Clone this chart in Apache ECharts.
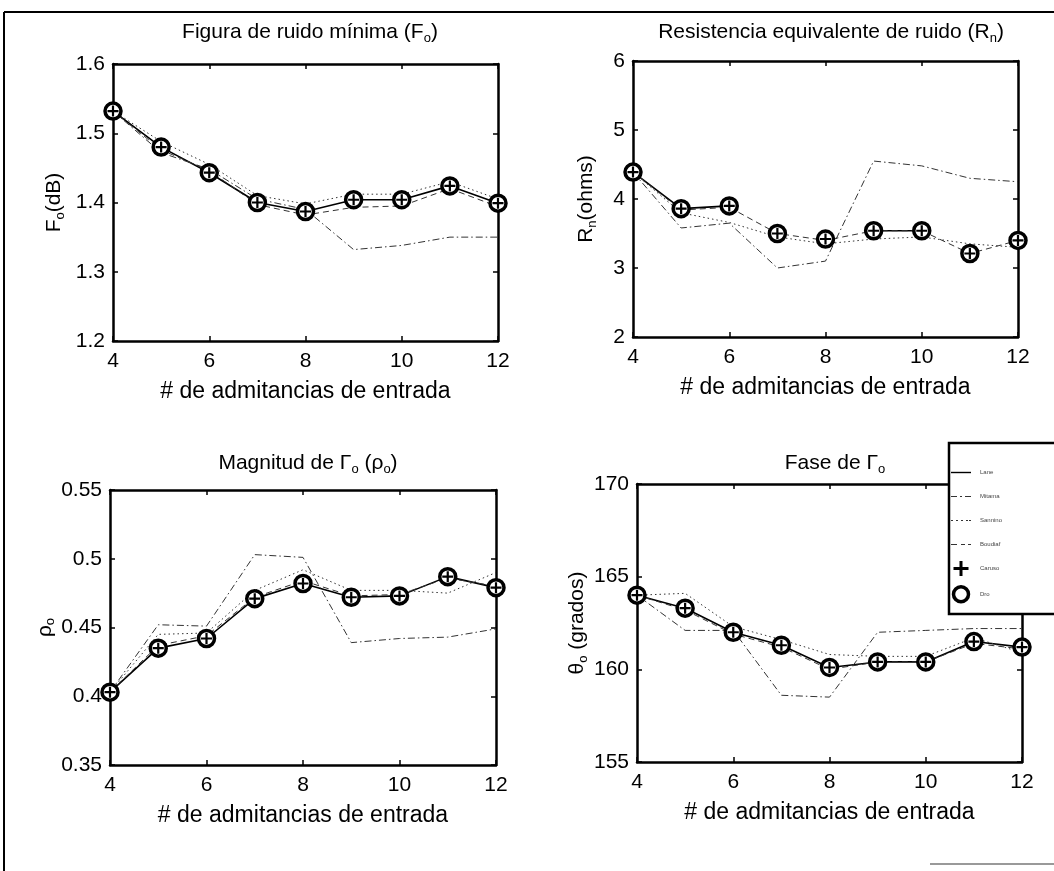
<!DOCTYPE html>
<html>
<head>
<meta charset="utf-8">
<script src="https://cdn.jsdelivr.net/npm/echarts@6/dist/echarts.min.js"></script>
<style>
  html, body { margin: 0; padding: 0; background: #fff; }
  #chart { width: 1054px; height: 871px; }
</style>
</head>
<body>
<div id="chart"></div>
<script>
// Number of input admittances used in the extraction
const admittances = [4, 5, 6, 7, 8, 9, 10, 11, 12];

// Method names (legend order)
const methodNames = ['Lane', 'Mitama', 'Sannino', 'Boudiaf', 'Caruso', 'Dro'];

// Minimum noise figure Fo (dB)
const foSolid   = [1.532, 1.480, 1.443, 1.400, 1.387, 1.404, 1.404, 1.424, 1.399];
const foDashDot = [1.532, 1.472, 1.448, 1.405, 1.390, 1.332, 1.338, 1.350, 1.350];
const foDotted  = [1.532, 1.488, 1.455, 1.410, 1.398, 1.412, 1.412, 1.430, 1.405];
const foDashed  = [1.532, 1.476, 1.446, 1.397, 1.382, 1.393, 1.395, 1.420, 1.394];
const foPlus    = [1.532, 1.480, 1.443, 1.400, 1.387, 1.404, 1.404, 1.424, 1.399];
const foCircle  = [1.532, 1.480, 1.443, 1.400, 1.387, 1.404, 1.404, 1.424, 1.399];

// Equivalent noise resistance Rn (ohms)
const rnSolid   = [4.39, 3.86, 3.90, null, null, 3.54, 3.54, null, null];
const rnDashDot = [4.39, 3.58, 3.65, 3.00, 3.10, 4.55, 4.48, 4.30, 4.25];
const rnDotted  = [4.39, 3.80, 3.66, 3.45, 3.35, 3.42, 3.45, 3.35, 3.30];
const rnDashed  = [4.39, 3.84, 3.88, 3.50, 3.40, 3.54, 3.54, 3.21, 3.40];
const rnPlus    = [4.39, 3.86, 3.90, 3.50, 3.42, 3.54, 3.54, 3.21, 3.40];
const rnCircle  = [4.39, 3.86, 3.90, 3.50, 3.42, 3.54, 3.54, 3.21, 3.40];

// Magnitude of the optimum reflection coefficient (rho_o)
const rhoSolid   = [0.403, 0.435, 0.442, 0.471, 0.482, 0.472, 0.473, 0.487, 0.479];
const rhoDashDot = [0.403, 0.452, 0.451, 0.503, 0.501, 0.439, 0.442, 0.443, 0.449];
const rhoDotted  = [0.403, 0.445, 0.446, 0.477, 0.492, 0.477, 0.477, 0.475, 0.490];
const rhoDashed  = [0.403, 0.437, 0.444, 0.472, 0.484, 0.473, 0.474, 0.486, 0.480];
const rhoPlus    = [0.403, 0.435, 0.442, 0.471, 0.482, 0.472, 0.473, 0.487, 0.479];
const rhoCircle  = [0.403, 0.435, 0.442, 0.471, 0.482, 0.472, 0.473, 0.487, 0.479];

// Phase of the optimum reflection coefficient (degrees)
const thSolid   = [164.0, 163.3, 162.0, 161.3, 160.1, 160.4, 160.4, 161.5, 161.2];
const thDashDot = [164.0, 162.1, 162.1, 158.6, 158.5, 162.0, 162.1, 162.2, 162.2];
const thDotted  = [164.0, 164.1, 162.3, 161.6, 160.8, 160.7, 160.7, 161.7, 160.9];
const thDashed  = [164.0, 163.2, 161.9, 161.2, 160.0, 160.4, 160.4, 161.4, 161.1];
const thPlus    = [164.0, 163.3, 162.0, 161.3, 160.1, 160.4, 160.4, 161.5, 161.2];
const thCircle  = [164.0, 163.3, 162.0, 161.3, 160.1, 160.4, 160.4, 161.5, 161.2];

// Axis ranges
const xRange   = { min: 4, max: 12, interval: 2 };
const foRange  = { min: 1.2, max: 1.6, interval: 0.1 };
const rnRange  = { min: 2, max: 6, interval: 1 };
const rhoRange = { min: 0.35, max: 0.55, interval: 0.05 };
const thRange  = { min: 155, max: 170, interval: 5 };

const FONT = '"Liberation Sans", Arial, sans-serif';
const PLUS_PATH = 'path://M4,0h2v4h4v2h-4v4h-2v-4h-4v-2h4z';

// legend glyphs for the line styles (thin bars laid out along one row)
const LEG_SOLID   = 'path://M0,0h20v1.4h-20z';
const LEG_DASHDOT = 'path://M0,0h6v1h-6z M9,0h2v1h-2z M14,0h6v1h-6z';
const LEG_DOTTED  = 'path://M0,0h2v1h-2z M5,0h2v1h-2z M10,0h2v1h-2z M15,0h2v1h-2z M18,0h2v1h-2z';
const LEG_DASHED  = 'path://M0,0h6v1h-6z M10,0h4v1h-4z M17,0h3v1h-3z';

const panels = [
  { grid: { left: 113, top: 64, width: 385, height: 277 }, y: foRange,
    sets: [foSolid, foDashDot, foDotted, foDashed, foPlus, foCircle],
    title: '{a|Figura de ruido mínima (F}{s|o}{a|)}', tx: 305, ty: 15,
    yName: '{a|F}{s|o}{a|(dB)}', yGap: 46 },
  { grid: { left: 633, top: 61, width: 385, height: 276 }, y: rnRange,
    sets: [rnSolid, rnDashDot, rnDotted, rnDashed, rnPlus, rnCircle],
    title: '{a|Resistencia equivalente de ruido (R}{s|n}{a|)}', tx: 826, ty: 15,
    yName: '{a|R}{s|n}{a|(ohms)}', yGap: 34 },
  { grid: { left: 110, top: 490, width: 386, height: 275 }, y: rhoRange,
    sets: [rhoSolid, rhoDashDot, rhoDotted, rhoDashed, rhoPlus, rhoCircle],
    title: '{a|Magnitud de Γ}{s|o}{a| (ρ}{s|o}{a|)}', tx: 303, ty: 446,
    yName: '{a|ρ}{s|o}', yGap: 37 },
  { grid: { left: 637, top: 484, width: 385, height: 278 }, y: thRange,
    sets: [thSolid, thDashDot, thDotted, thDashed, thPlus, thCircle],
    title: '{a|Fase de Γ}{s|o}', tx: 830, ty: 446,
    yName: '{a|θ}{s|o}{a| (grados)}', yGap: 44 }
];

const richText = {
  a: { fontSize: 21, fontFamily: FONT, color: '#000', fontWeight: 'normal' },
  s: { fontSize: 13, fontFamily: FONT, color: '#000', fontWeight: 'normal', padding: [12, 0, 0, 0] }
};

const lineStyles = [
  { type: 'solid', width: 1.6, color: '#000' },
  { type: [7, 3, 1.5, 3], width: 1, color: '#333' },
  { type: [1.5, 3], width: 1, color: '#333' },
  { type: [6, 4], width: 1, color: '#333' }
];

const grids = [], xAxes = [], yAxes = [], series = [], titles = [];

panels.forEach((p, g) => {
  grids.push(Object.assign({ containLabel: false }, p.grid));
  titles.push({
    text: p.title, left: p.tx, top: p.ty, textAlign: 'center',
    textStyle: { fontWeight: 'normal', rich: richText }
  });
  const axisLine = { show: true, lineStyle: { color: '#000', width: 2.5 } };
  const tick = { show: true, inside: true, length: 5, lineStyle: { color: '#000', width: 1.5 } };
  xAxes.push({
    type: 'value', gridIndex: g, position: 'bottom',
    min: xRange.min, max: xRange.max, interval: xRange.interval,
    axisLine, axisTick: tick, splitLine: { show: false },
    axisLabel: { fontSize: 21, fontFamily: FONT, color: '#000', margin: 10 },
    name: '# de admitancias de entrada', nameLocation: 'middle', nameGap: 39,
    nameTextStyle: { fontSize: 23, fontFamily: FONT, color: '#000' }
  });
  xAxes.push({
    type: 'value', gridIndex: g, position: 'top',
    min: xRange.min, max: xRange.max, interval: xRange.interval,
    axisLine, axisTick: tick, splitLine: { show: false }, axisLabel: { show: false }
  });
  yAxes.push({
    type: 'value', gridIndex: g, position: 'left',
    min: p.y.min, max: p.y.max, interval: p.y.interval,
    axisLine, axisTick: tick, splitLine: { show: false },
    axisLabel: { fontSize: 21, fontFamily: FONT, color: '#000', margin: 8 },
    name: p.yName, nameLocation: 'middle', nameRotate: 90, nameGap: p.yGap,
    nameTextStyle: { rich: richText }
  });
  yAxes.push({
    type: 'value', gridIndex: g, position: 'right',
    min: p.y.min, max: p.y.max, interval: p.y.interval,
    axisLine, axisTick: tick, splitLine: { show: false }, axisLabel: { show: false }
  });

  const toData = vals => admittances.map((x, i) => [x, vals[i] === null ? '-' : vals[i]]);

  // four line-only methods
  for (let k = 0; k < 4; k++) {
    series.push({
      type: 'line', name: methodNames[k], xAxisIndex: 2 * g, yAxisIndex: 2 * g,
      data: toData(p.sets[k]), symbol: 'none', lineStyle: lineStyles[k],
      itemStyle: { color: lineStyles[k].color },
      connectNulls: false, silent: true, animation: false, z: 2
    });
  }
  // circle markers
  series.push({
    type: 'line', name: methodNames[5], xAxisIndex: 2 * g, yAxisIndex: 2 * g,
    data: toData(p.sets[5]), symbol: 'circle', symbolSize: 16, showSymbol: true,
    lineStyle: { opacity: 0, width: 0 },
    itemStyle: { color: '#fff', borderColor: '#000', borderWidth: 3.5 },
    silent: true, animation: false, z: 3
  });
  // plus markers
  series.push({
    type: 'line', name: methodNames[4], xAxisIndex: 2 * g, yAxisIndex: 2 * g,
    data: toData(p.sets[4]), symbol: PLUS_PATH, symbolSize: 11, showSymbol: true,
    lineStyle: { opacity: 0, width: 0 },
    itemStyle: { color: '#000' },
    silent: true, animation: false, z: 4
  });
});

const option = {
  backgroundColor: '#fff',
  animation: false,
  title: titles,
  grid: grids,
  xAxis: xAxes,
  yAxis: yAxes,
  series: series,
  legend: {
    orient: 'vertical', left: 946, top: 460, z: 30,
    itemWidth: 20, itemHeight: 15, itemGap: 9,
    textStyle: { fontSize: 6, lineHeight: 15, color: '#444', fontFamily: FONT, padding: [0, 0, 0, 4] },
    data: [
      { name: methodNames[0], icon: LEG_SOLID, itemStyle: { color: '#000' } },
      { name: methodNames[1], icon: LEG_DASHDOT, itemStyle: { color: '#333' } },
      { name: methodNames[2], icon: LEG_DOTTED, itemStyle: { color: '#333' } },
      { name: methodNames[3], icon: LEG_DASHED, itemStyle: { color: '#333' } },
      { name: methodNames[4], icon: PLUS_PATH, itemStyle: { color: '#000' } },
      { name: methodNames[5], icon: 'circle', itemStyle: { color: '#fff', borderColor: '#000', borderWidth: 3.5 } }
    ],
    selectedMode: false
  },
  graphic: [
    // page frame
    { type: 'line', z: 20, shape: { x1: 4, y1: 12, x2: 1054, y2: 12 }, style: { stroke: '#000', lineWidth: 2 } },
    { type: 'line', z: 20, shape: { x1: 4, y1: 12, x2: 4, y2: 871 }, style: { stroke: '#000', lineWidth: 2 } },
    { type: 'line', z: 20, shape: { x1: 930, y1: 864, x2: 1054, y2: 864 }, style: { stroke: '#999', lineWidth: 2 } },
    // legend box
    { type: 'rect', z: 25, shape: { x: 949, y: 443, width: 120, height: 171 },
      style: { fill: '#fff', stroke: '#000', lineWidth: 2.5 } }
  ]
};

const chart = echarts.init(document.getElementById('chart'), null, { renderer: 'canvas' });
chart.setOption(option);
</script>
</body>
</html>
